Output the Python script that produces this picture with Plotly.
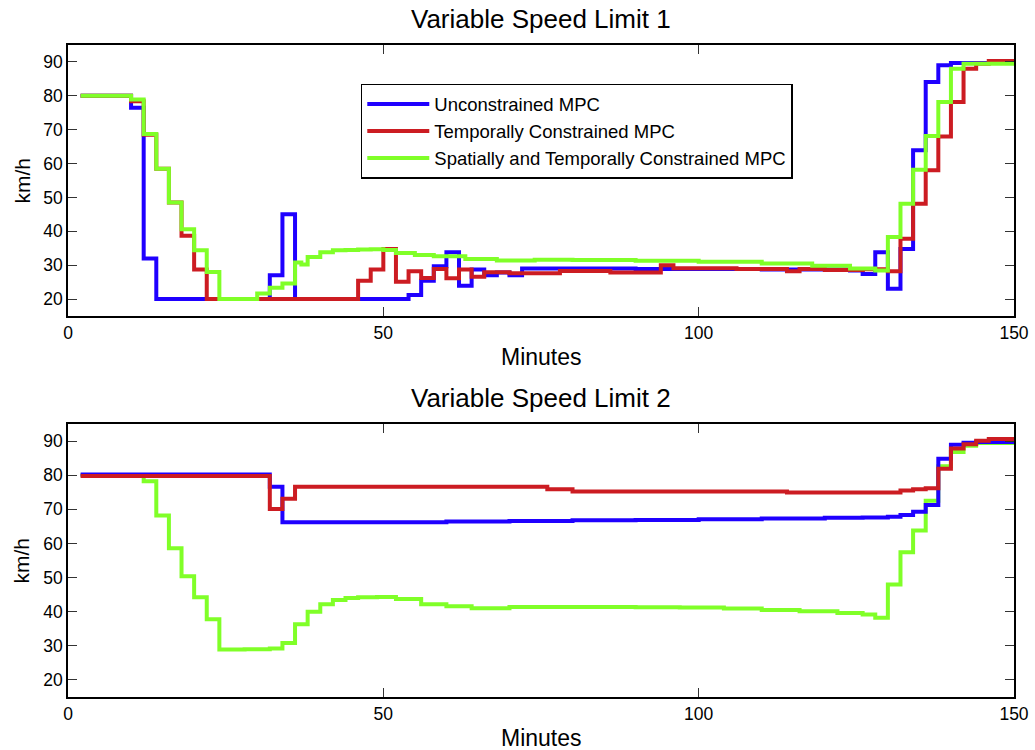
import plotly.graph_objects as go

# ---------------- data (minutes, km/h) ----------------
series_names = ["Unconstrained MPC", "Temporally Constrained MPC",
                "Spatially and Temporally Constrained MPC"]
colors = ["#1f00ff", "#cc1c22", "#80ff28"]

# Variable Speed Limit 1
vsl1_unc_t = [2, 10, 12, 14, 32, 34, 36, 54, 56, 58, 60, 62, 64, 66, 68, 70, 72, 90, 110,
              124, 126, 128, 130, 132, 134, 136, 138, 140, 150]
vsl1_unc_v = [80, 76.5, 32, 20, 27, 45, 20, 21.2, 25.4, 29.7, 33.8, 23.9, 28.7, 27.0, 27.8, 27.0,
              29.0, 28.9, 28.7, 28.4, 27.4, 33.8, 23.0, 34.8, 63.9, 84.1, 89.0, 89.7, 89.7]

vsl1_tmp_t = [2, 10, 12, 14, 16, 18, 20, 22, 46, 48, 50, 52, 54, 56, 58, 60, 62, 64, 66,
              70, 78, 86, 94, 96, 106, 114, 116, 120, 126, 130, 132, 134, 136, 138, 140,
              142, 144, 146, 150]
vsl1_tmp_v = [80, 78.4, 68.5, 58.5, 48.5, 38.7, 28.7, 20, 25.4, 28.7, 34.8, 25.1, 28.2, 26.2,
              28.9, 26.1, 28.7, 26.6, 27.9, 27.6, 28.3, 27.8, 30.0, 29.1, 28.9, 28.2, 28.9,
              28.6, 28.8, 28.2, 37.8, 48.1, 58, 68, 78.2, 88, 89.5, 90.3, 90.3]

vsl1_sp_t = [2, 10, 12, 14, 16, 18, 20, 22, 24, 30, 32, 34, 36, 37, 38, 40, 42, 44, 46,
             48, 50, 52, 55, 58, 63, 68, 74, 80, 90, 100, 110, 118, 124, 128, 130, 132,
             134, 136, 138, 140, 142, 150]
vsl1_sp_v = [80, 78.9, 68.7, 58.5, 48.5, 40.6, 34.4, 28.0, 20, 21.6, 23.3, 24.6, 30.8, 30.2,
             32.4, 33.8, 34.4, 34.5, 34.6, 34.7, 34.5, 33.6, 33.0, 32.6, 31.8, 31.4, 31.6,
             31.5, 31.3, 31.0, 30.5, 29.8, 29.0, 28.4, 38.3, 48.1, 58.2, 68.1, 78.2, 88,
             89.5, 89.7]

# Variable Speed Limit 2
vsl2_unc_t = [2, 32, 34, 50, 60, 70, 80, 90, 100, 110, 120, 126, 130, 132, 134, 136, 138,
              140, 142, 144, 150]
vsl2_unc_v = [80.2, 76.6, 66.2, 66.2, 66.4, 66.6, 66.8, 66.9, 67.1, 67.3, 67.5, 67.6, 67.8,
              68.3, 69.3, 71.3, 84.8, 88.9, 89.5, 89.7, 89.7]

vsl2_tmp_t = [2, 32, 34, 36, 76, 80, 114, 132, 134, 136, 138, 140, 142, 144, 146, 150]
vsl2_tmp_v = [79.8, 70.1, 73.1, 76.6, 75.9, 75.2, 74.9, 75.5, 75.9, 76.2, 81.9, 87.8, 89.1,
              90.1, 90.6, 90.6]

vsl2_sp_t = [2, 12, 14, 16, 18, 20, 22, 24, 28, 32, 34, 36, 38, 40, 42, 44, 46, 49, 52, 56,
             60, 64, 70, 80, 90, 97, 104, 110, 116, 122, 126, 128, 130, 132, 134, 136, 138,
             140, 142, 144, 150]
vsl2_sp_v = [80, 78.2, 68.2, 58.6, 50.4, 44.2, 37.8, 28.9, 29.0, 29.2, 30.8, 36.3, 40.0, 42.2,
             43.4, 44.0, 44.2, 44.3, 43.7, 42.2, 41.6, 41.0, 41.4, 41.4, 41.3, 41.2, 40.9,
             40.5, 40.1, 39.6, 39.2, 38.2, 48.0, 57.4, 63.8, 72.5, 82.6, 86.8, 88.6, 89.4,
             89.6]

x_ticks = [0, 50, 100, 150]
y_ticks = [20, 30, 40, 50, 60, 70, 80, 90]
titles = ["Variable Speed Limit 1", "Variable Speed Limit 2"]
x_title = "Minutes"
y_title = "km/h"

FONT = "Arial, Liberation Sans, sans-serif"
LW = 4
TOP_DOM = [0.5844, 1.0]
BOT_DOM = [0.0, 0.4187]

fig = go.Figure()

top = [(vsl1_unc_t, vsl1_unc_v, 0), (vsl1_tmp_t, vsl1_tmp_v, 1), (vsl1_sp_t, vsl1_sp_v, 2)]
for t, v, i in top:
    fig.add_trace(go.Scatter(x=t, y=v, mode="lines", name=series_names[i],
                             line=dict(color=colors[i], width=LW, shape="hv"),
                             xaxis="x", yaxis="y", showlegend=True))

bottom = [(vsl2_sp_t, vsl2_sp_v, 2), (vsl2_unc_t, vsl2_unc_v, 0), (vsl2_tmp_t, vsl2_tmp_v, 1)]
for t, v, i in bottom:
    fig.add_trace(go.Scatter(x=t, y=v, mode="lines", name=series_names[i],
                             line=dict(color=colors[i], width=LW, shape="hv"),
                             xaxis="x2", yaxis="y2", showlegend=False))

def xax(anchor):
    return dict(domain=[0, 1], anchor=anchor, range=[0, 150], tickvals=x_ticks,
                ticks="inside", ticklen=9, tickwidth=1.2, tickcolor="#333",
                showline=True, linecolor="black", linewidth=1.5, mirror="ticks",
                showgrid=False, zeroline=False, automargin=False,
                tickfont=dict(size=17.5, color="black", family=FONT))

def yax(anchor, dom):
    return dict(domain=dom, anchor=anchor, range=[15, 95], tickvals=y_ticks,
                ticks="inside", ticklen=9, tickwidth=1.2, tickcolor="#333",
                showline=True, linecolor="black", linewidth=1.5, mirror="ticks",
                showgrid=False, zeroline=False, automargin=False,
                tickfont=dict(size=17.5, color="black", family=FONT))

annots = []
for dom, ttl in zip([TOP_DOM, BOT_DOM], titles):
    annots.append(dict(text=ttl, x=0.5, y=dom[1], xref="paper", yref="paper",
                       yanchor="bottom", yshift=9, showarrow=False,
                       font=dict(size=26, color="black", family=FONT)))
    annots.append(dict(text=x_title, x=0.5, y=dom[0], xref="paper", yref="paper",
                       yanchor="middle", yshift=-41, showarrow=False,
                       font=dict(size=23, color="black", family=FONT)))
    annots.append(dict(text=y_title, x=0, y=(dom[0] + dom[1]) / 2, xref="paper",
                       yref="paper", xanchor="center", yanchor="middle", xshift=-46,
                       textangle=-90, showarrow=False,
                       font=dict(size=21, color="black", family=FONT)))

fig.update_layout(
    width=1035, height=750,
    margin=dict(l=68, r=21, t=45, b=53, autoexpand=False),
    paper_bgcolor="white", plot_bgcolor="white",
    font=dict(family=FONT, color="black"),
    xaxis=xax("y"), yaxis=yax("x", TOP_DOM),
    xaxis2=xax("y2"), yaxis2=yax("x2", BOT_DOM),
    legend=dict(x=0.3095, y=0.9402, xanchor="left", yanchor="top",
                bordercolor="black", borderwidth=1.5, bgcolor="white",
                font=dict(size=18.5, color="black", family=FONT),
                tracegroupgap=0, itemwidth=62),
    annotations=annots,
)

fig.write_html("out.html")
